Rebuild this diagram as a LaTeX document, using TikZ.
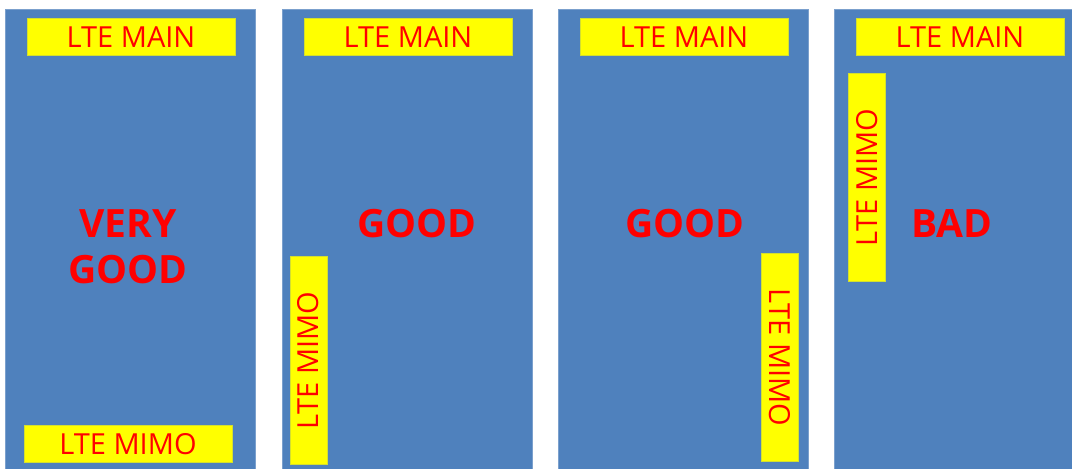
\documentclass[tikz,border=0pt]{standalone}
\usepackage{fontspec}
\setmainfont{Open Sans}
\usetikzlibrary{positioning}
\definecolor{panelblue}{HTML}{4F81BD}
\definecolor{tagyellow}{HTML}{FFFF00}
\definecolor{tagred}{HTML}{FF0000}

\begin{document}
\begin{tikzpicture}[x=1pt,y=-1pt,
  panel/.style={fill=panelblue,draw=panelblue!75!white,line width=0.6pt,inner sep=0pt,minimum width=250pt,minimum height=462pt,anchor=north west},
  tag/.style={fill=tagyellow,draw=tagyellow!75!panelblue,line width=0.4pt,inner sep=0pt,minimum width=208pt,minimum height=37pt,text=tagred,font=\fontsize{29}{30}\selectfont},
  verdict/.style={text=tagred,font=\fontsize{39}{46}\selectfont\bfseries,align=center}]
  \clip (0,0) rectangle (1072,469);
  % four phones
  \node[panel] (p1) at (5,9) {};
  \node[panel] (p2) at (282,9) {};
  \node[panel] (p3) at (558,9) {};
  \node[panel] (p4) at (834,9) {};
  % main antennas
  \node[tag] (main1) at (131,37) {LTE MAIN};
  \node[tag] (main2) at (408,37) {LTE MAIN};
  \node[tag] (main3) at (684,37) {LTE MAIN};
  \node[tag] (main4) at (960,37) {LTE MAIN};
  % mimo antennas
  \node[tag] (mimo1) at (128,444) {LTE MIMO};
  \node[tag,rotate=90] (mimo2) at (308.5,360.5) {LTE MIMO};
  \node[tag,rotate=-90] (mimo3) at (780,357.5) {LTE MIMO};
  \node[tag,rotate=90] (mimo4) at (867,177.5) {LTE MIMO};
  % ratings
  \node[verdict] (rate1) at (128,247) {VERY\\GOOD};
  \node[verdict] (rate2) at (417,224) {GOOD};
  \node[verdict] (rate3) at (685,224) {GOOD};
  \node[verdict] (rate4) at (952,224) {BAD};
\end{tikzpicture}
\end{document}
